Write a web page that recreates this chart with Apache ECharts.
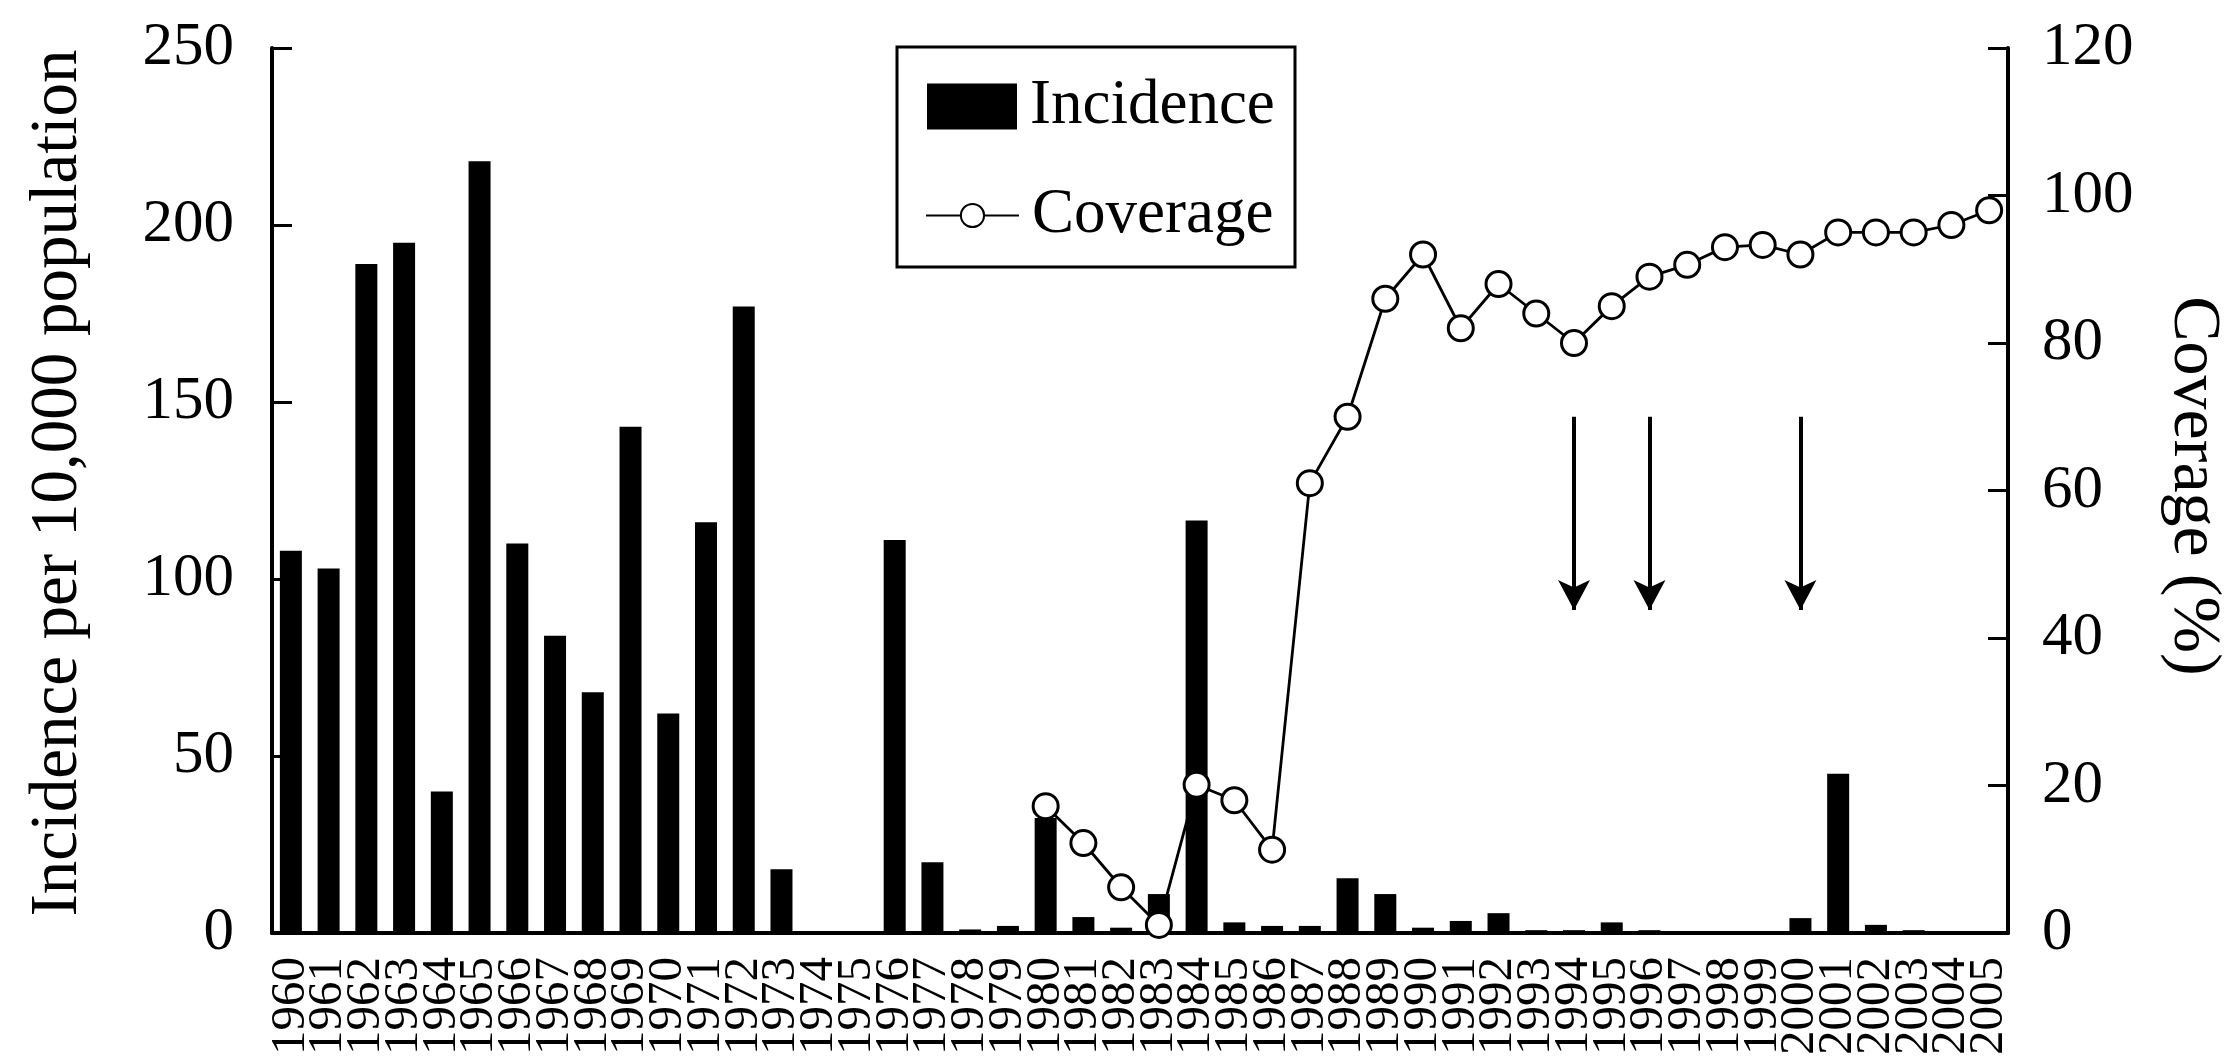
<!DOCTYPE html>
<html>
<head>
<meta charset="utf-8">
<script src="https://cdn.jsdelivr.net/npm/echarts@6/dist/echarts.min.js"></script>
<style>
  html, body { margin: 0; padding: 0; background: #fff; }
  #chart { width: 2229px; height: 1060px; }
</style>
</head>
<body>
<div id="chart"></div>
<script>
var years = [];
for (var y = 1960; y <= 2005; y++) years.push(String(y));

// incidence per 10,000 population, 1960-2005
var incidence = [108, 103, 189, 195, 40, 218, 110, 84, 68, 143,
                 62, 116, 177, 18, 0, 0, 111, 20, 1, 2,
                 32.5, 4.5, 1.5, 11, 116.5, 3, 2, 2, 15.5, 11,
                 1.5, 3.4, 5.6, 0.8, 0.8, 3, 0.8, 0, 0, 0,
                 4.2, 45, 2.3, 0.8, 0, 0];

// coverage (%), starts in 1980
var coverage = [null, null, null, null, null, null, null, null, null, null,
                null, null, null, null, null, null, null, null, null, null,
                17.2, 12.2, 6.2, 1.1, 20.1, 18, 11.3, 61, 70, 86,
                92, 82, 88, 84, 80, 85, 89, 90.6, 93, 93.3,
                92, 95, 95, 95, 96, 98];

// arrows drawn on the coverage axis
var arrowYears = ['1994', '1996', '2000'];
var arrowFrom = 70;
var arrowTo = 43.8;

var serif = '"Liberation Serif", "Times New Roman", serif';

var chart = echarts.init(document.getElementById('chart'));

var arrowData = arrowYears.map(function (yr) {
    return [{coord: [yr, arrowFrom]}, {coord: [yr, arrowTo]}];
});

chart.setOption({
    backgroundColor: '#fff',
    animation: false,
    grid: {left: 272, right: 221, top: 48, bottom: 127},
    legend: [
        {
            data: [{name: 'Incidence', icon: 'rect'}],
            left: 927, top: 75, padding: 0,
            itemWidth: 90, itemHeight: 46,
            textStyle: {fontFamily: serif, fontSize: 63, color: '#000', padding: [0, 0, 0, 8]},
            selectedMode: false
        },
        {
            data: ['Coverage'],
            left: 925, top: 184, padding: 0,
            itemWidth: 93, itemHeight: 29,
            textStyle: {fontFamily: serif, fontSize: 63, color: '#000', padding: [0, 0, 0, 8]},
            selectedMode: false
        }
    ],
    xAxis: {
        type: 'category',
        data: years,
        axisLine: {lineStyle: {color: '#000', width: 4}},
        axisTick: {show: false},
        axisLabel: {rotate: 90, fontFamily: serif, fontSize: 49, color: '#000', margin: 24, interval: 0}
    },
    yAxis: [
        {
            type: 'value', min: 0, max: 250, interval: 50,
            splitLine: {show: false},
            axisLine: {show: true, lineStyle: {color: '#000', width: 4}},
            axisTick: {show: true, inside: true, length: 20, lineStyle: {color: '#000', width: 3}},
            axisLabel: {fontFamily: serif, fontSize: 61, color: '#000', margin: 38}
        },
        {
            type: 'value', min: 0, max: 120, interval: 20, position: 'right',
            splitLine: {show: false},
            axisLine: {show: true, lineStyle: {color: '#000', width: 4}},
            axisTick: {show: true, inside: true, length: 20, lineStyle: {color: '#000', width: 3}},
            axisLabel: {fontFamily: serif, fontSize: 61, color: '#000', margin: 34}
        }
    ],
    series: [
        {
            name: 'Incidence',
            type: 'bar',
            data: incidence,
            barWidth: 22,
            itemStyle: {color: '#000'}
        },
        {
            name: 'Coverage',
            type: 'line',
            yAxisIndex: 1,
            data: coverage,
            symbol: 'circle',
            symbolSize: 25,
            z: 5,
            lineStyle: {color: '#000', width: 2.8},
            itemStyle: {color: '#fff', borderColor: '#000', borderWidth: 3},
            markLine: {
                silent: true,
                symbol: ['none', 'arrow'],
                symbolSize: [24, 30],
                label: {show: false},
                lineStyle: {color: '#000', width: 4, type: 'solid'},
                data: arrowData
            }
        }
    ],
    graphic: [
        {
            type: 'rect',
            shape: {x: 897, y: 47, width: 398, height: 220},
            style: {fill: 'none', stroke: '#000', lineWidth: 3},
            z: 10
        },
        {
            type: 'text',
            x: 58, y: 483, rotation: Math.PI / 2,
            style: {
                text: 'Incidence per 10,000 population',
                fontFamily: serif, fontSize: 67, fill: '#000',
                align: 'center', verticalAlign: 'middle',
                textAlign: 'center', textVerticalAlign: 'middle'
            }
        },
        {
            type: 'text',
            x: 2193, y: 486, rotation: -Math.PI / 2,
            style: {
                text: 'Coverage (%)',
                fontFamily: serif, fontSize: 68, fill: '#000',
                align: 'center', verticalAlign: 'middle',
                textAlign: 'center', textVerticalAlign: 'middle'
            }
        }
    ]
});
</script>
</body>
</html>
